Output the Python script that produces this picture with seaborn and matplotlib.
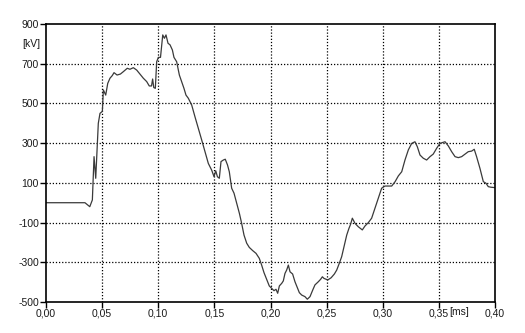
import matplotlib
matplotlib.use("Agg")
import matplotlib.pyplot as plt
import seaborn as sns
import pandas as pd
import matplotlib.transforms as mtransforms

# time in ms, voltage in kV
time_ms = [0.000, 0.0347, 0.039, 0.0413, 0.0428, 0.0443, 0.0466, 0.0481, 0.0502, 0.0511,
           0.0532, 0.055, 0.057, 0.059, 0.0606, 0.0633, 0.0663, 0.0689, 0.0724, 0.0748,
           0.0778, 0.0808, 0.0837, 0.0867, 0.0897, 0.092, 0.094, 0.095, 0.096, 0.0974,
           0.0986, 0.1001, 0.102, 0.104, 0.1055, 0.1069, 0.1087, 0.1105, 0.1126, 0.114,
           0.1164, 0.1188, 0.1208, 0.1229, 0.1247, 0.1268, 0.1298, 0.1327, 0.1357, 0.1387,
           0.1416, 0.1446, 0.1476, 0.1497, 0.1512, 0.1527, 0.1544, 0.1559, 0.158, 0.1597,
           0.1617, 0.1633, 0.1654, 0.1675, 0.1699, 0.1723, 0.1743, 0.1764, 0.1788, 0.1811,
           0.1841, 0.1871, 0.19, 0.1921, 0.1942, 0.1966, 0.1989, 0.201, 0.2031, 0.2049,
           0.2064, 0.2079, 0.21, 0.2114, 0.2129, 0.2144, 0.2159, 0.2174, 0.2197, 0.2218,
           0.2239, 0.2257, 0.2278, 0.2307, 0.2328, 0.2352, 0.2376, 0.2396, 0.2426, 0.2446,
           0.2462, 0.2476, 0.251, 0.254, 0.2569, 0.259, 0.2613, 0.2634, 0.2655, 0.2679,
           0.2699, 0.2714, 0.2729, 0.2753, 0.2782, 0.2818, 0.2842, 0.2872, 0.2901, 0.2931,
           0.296, 0.299, 0.302, 0.305, 0.308, 0.311, 0.3139, 0.3169, 0.3198, 0.3228,
           0.3258, 0.3287, 0.3308, 0.3332, 0.3361, 0.3391, 0.3421, 0.345, 0.348, 0.351,
           0.3555, 0.3584, 0.3614, 0.3644, 0.3673, 0.3703, 0.3733, 0.3762, 0.3792, 0.3815,
           0.3836, 0.3866, 0.3896, 0.392, 0.394, 0.3964, 0.400]
voltage_kv = [0, 0, -20, 14, 232, 123, 400, 450, 460, 568,
              542, 601, 627, 640, 655, 643, 648, 660, 677, 672,
              680, 668, 648, 627, 610, 588, 588, 623, 580, 576,
              710, 732, 732, 845, 828, 845, 803, 795, 769, 732,
              710, 643, 610, 576, 542, 526, 492, 433, 375, 316,
              257, 198, 164, 131, 161, 131, 123, 207, 215, 219,
              190, 156, 73, 48, -3, -54, -104, -163, -204, -225,
              -241, -255, -280, -314, -352, -386, -419, -431, -443, -436,
              -456, -419, -406, -394, -356, -339, -314, -348, -359, -398,
              -427, -453, -465, -473, -486, -473, -440, -414, -398, -386,
              -373, -381, -389, -378, -359, -339, -305, -272, -221, -163,
              -129, -108, -78, -104, -121, -137, -117, -100, -78, -28,
              22, 73, 84, 84, 84, 106, 135, 156, 215, 266,
              299, 307, 282, 240, 224, 215, 232, 245, 274, 299,
              307, 286, 257, 232, 227, 232, 245, 257, 260, 269,
              232, 173, 106, 98, 81, 78, 76]

x_ticks = [0.00, 0.05, 0.10, 0.15, 0.20, 0.25, 0.30, 0.35, 0.40]
x_tick_labels = ["0,00", "0,05", "0,10", "0,15", "0,20", "0,25", "0,30", "0,35", "0,40"]
y_ticks = [900, 700, 500, 300, 100, -100, -300, -500]
y_tick_labels = ["900", "700", "500", "300", "100", "-100", "-300", "-500"]
x_unit = "[ms]"
y_unit = "[kV]"

sns.set_theme(style="white")
plt.rcParams['font.family'] = ['Liberation Sans', 'DejaVu Sans']

df = pd.DataFrame({"t": time_ms, "v": voltage_kv})

fig = plt.figure(figsize=(5.25, 3.33), dpi=100)
ax = fig.add_axes([46/525, 1-302/333, (495-46)/525, (302-24)/333])

sns.lineplot(data=df, x="t", y="v", ax=ax, estimator=None, sort=False,
             color="#3a3a3a", linewidth=0.9)

ax.set_xlim(0, 0.40)
ax.set_ylim(-500, 900)
ax.set_xticks(x_ticks)
ax.set_xticklabels(x_tick_labels)
ax.set_yticks(y_ticks)
ax.set_yticklabels(y_tick_labels)
ax.set_xlabel("")
ax.set_ylabel("")

ax.tick_params(axis="both", which="both", direction="out", length=4, width=1,
               color="black", labelsize=7.5, labelcolor="#1a1a1a", pad=1,
               left=True, bottom=True)

for s in ax.spines.values():
    s.set_color("black")
    s.set_linewidth(1.2)

for xv in x_ticks[1:-1]:
    ax.axvline(xv, color="black", linestyle=(0, (1, 1.5)), linewidth=0.9, zorder=0)
for yv in y_ticks[1:-1]:
    ax.axhline(yv, color="black", linestyle=(0, (1, 1.5)), linewidth=0.9, zorder=0)

# unit labels
trans_y = mtransforms.blended_transform_factory(ax.transAxes, ax.transData)
ax.text(-0.012, 800, y_unit, transform=trans_y, ha="right", va="center",
        fontsize=7.5, color="#1a1a1a")
trans_x = mtransforms.blended_transform_factory(ax.transData, ax.transAxes)
ax.text(0.368, -0.018, x_unit, transform=trans_x, ha="center", va="top",
        fontsize=7.5, color="#1a1a1a")

fig.savefig("out.png", dpi=100)
